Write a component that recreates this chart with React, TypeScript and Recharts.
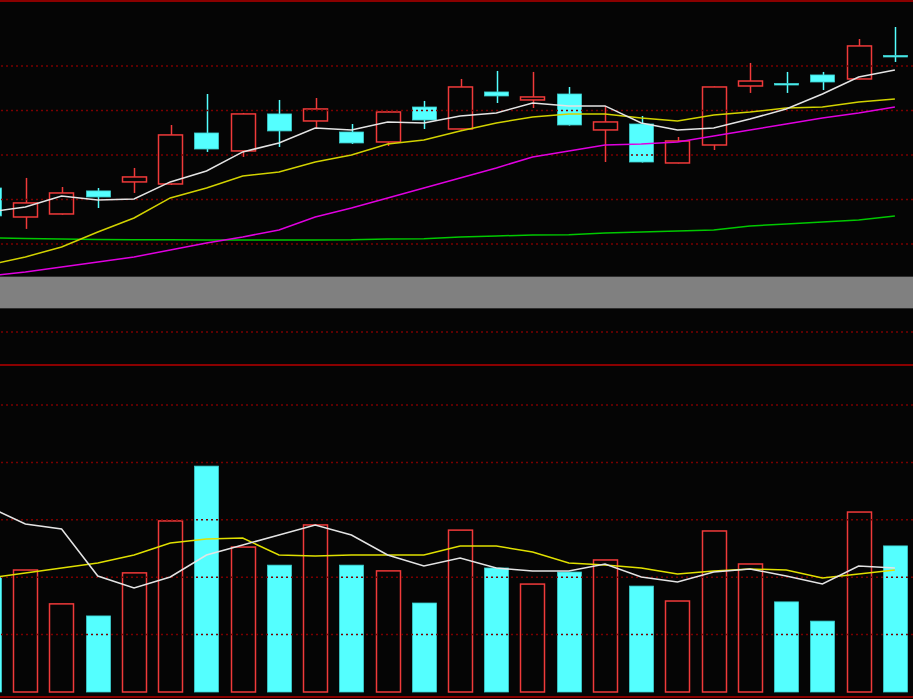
import { ComposedChart, Bar, Line, XAxis, YAxis, ReferenceLine } from 'recharts';

// K-line window: 26 trading days, first one is cut by the left edge
const days = ['D01', 'D02', 'D03', 'D04', 'D05', 'D06', 'D07', 'D08', 'D09', 'D10', 'D11', 'D12', 'D13',
    'D14', 'D15', 'D16', 'D17', 'D18', 'D19', 'D20', 'D21', 'D22', 'D23', 'D24', 'D25', 'D26'];

const opens = [10.629, 10.303, 10.337, 10.596, 10.697, 10.674, 11.247, 11.045, 11.461, 11.382, 11.258, 11.146, 11.539,
    11.292, 11.708, 11.618, 11.685, 11.281, 11.348, 10.910, 11.112, 11.775, 11.803, 11.899, 11.854, 12.118];
const closes = [10.315, 10.461, 10.573, 10.528, 10.753, 11.225, 11.067, 11.461, 11.270, 11.517, 11.135, 11.483, 11.393,
    11.764, 11.663, 11.652, 11.337, 11.371, 10.921, 11.157, 11.764, 11.831, 11.798, 11.820, 12.225, 12.112];
const highs = [10.660, 10.742, 10.640, 10.629, 10.854, 11.337, 11.685, 11.472, 11.618, 11.640, 11.348, 11.490, 11.607,
    11.854, 11.944, 11.933, 11.764, 11.551, 11.438, 11.202, 11.770, 12.034, 11.933, 11.933, 12.303, 12.438];
const lows = [10.300, 10.169, 10.330, 10.404, 10.573, 10.663, 11.034, 10.978, 11.090, 11.303, 11.124, 11.101, 11.292,
    11.285, 11.584, 11.528, 11.330, 10.921, 10.915, 10.905, 11.056, 11.697, 11.697, 11.730, 11.850, 12.045];

const ma5 = [10.36, 10.416, 10.539, 10.494, 10.506, 10.697, 10.82, 11.034, 11.135, 11.303, 11.281, 11.371, 11.36,
    11.438, 11.472, 11.584, 11.551, 11.551, 11.36, 11.281, 11.303, 11.404, 11.517, 11.685, 11.876, 11.955];
const ma10 = [9.764, 9.854, 9.966, 10.135, 10.292, 10.517, 10.629, 10.764, 10.809, 10.921, 11.0, 11.124, 11.169,
    11.27, 11.36, 11.427, 11.461, 11.461, 11.416, 11.382, 11.449, 11.483, 11.528, 11.539, 11.596, 11.629];
const ma20 = [9.64, 9.685, 9.742, 9.798, 9.854, 9.933, 10.011, 10.079, 10.157, 10.303, 10.404, 10.517, 10.629,
    10.742, 10.854, 10.978, 11.045, 11.112, 11.124, 11.146, 11.213, 11.281, 11.348, 11.416, 11.472, 11.539];
const ma60 = [10.07, 10.06, 10.055, 10.05, 10.048, 10.046, 10.045, 10.045, 10.045, 10.045, 10.046, 10.056, 10.058,
    10.079, 10.09, 10.101, 10.104, 10.124, 10.135, 10.146, 10.157, 10.202, 10.225, 10.247, 10.27, 10.315];

const volumes = [40000, 42500, 30700, 26500, 41500, 59600, 78700, 50500, 44200, 58200, 44200, 42200, 31000,
    56400, 43200, 37600, 41800, 46000, 36900, 31700, 56100, 44600, 31400, 24700, 62700, 50900];
const volMa5 = [64450, 58530, 56790, 40410, 36230, 40070, 47730, 51210, 54700, 58180, 54700, 47730, 43900,
    46690, 43200, 42160, 42160, 44600, 40070, 38320, 41810, 42850, 40410, 37630, 43900, 43200];
const volMa10 = [39700, 41460, 43200, 44940, 47730, 51910, 53300, 53650, 47730, 47380, 47730, 47730, 47730,
    50870, 50870, 48780, 44940, 44250, 43200, 41110, 42160, 42850, 42500, 39720, 41110, 42500];

const priceGrid = [10, 10.5, 11, 11.5, 12];
const volGrid = [20000, 40000, 60000, 80000, 100000];

const RED = '#f03a3a';
const CYAN = '#54ffff';
const GRID = '#7a0000';
const CHART_W = 942;

const rows = days.map((d, i) => ({
    day: d,
    open: opens[i],
    close: closes[i],
    high: highs[i],
    low: lows[i],
    range: [lows[i], highs[i]],
    ma5: ma5[i],
    ma10: ma10[i],
    ma20: ma20[i],
    ma60: ma60[i],
    vol: volumes[i],
    volMa5: volMa5[i],
    volMa10: volMa10[i],
}));

function Candle(props: any) {
    const { x, y, width, height, payload } = props;
    if (!payload) return null;
    const { open, close, high, low } = payload;
    const top = Math.min(y, y + height);
    const h = Math.abs(height);
    const toY = (v: number) => top + ((high - v) / (high - low)) * h;
    const cx = Math.round(x + width / 2) + 0.5;
    const up = close > open;
    const bTop = toY(Math.max(open, close));
    const bBot = toY(Math.min(open, close));
    const color = up ? RED : CYAN;
    const bx = Math.round(x) + 0.5;
    const bw = Math.round(width) - 1;
    return (
        <g>
            <line x1={cx} x2={cx} y1={toY(high)} y2={bTop} stroke={color} strokeWidth={1.5} />
            <line x1={cx} x2={cx} y1={bBot} y2={toY(low)} stroke={color} strokeWidth={1.5} />
            {up ? (
                <rect x={bx} y={bTop} width={bw} height={Math.max(bBot - bTop, 1)} fill="none" stroke={RED} strokeWidth={1.5} />
            ) : (
                <rect x={bx} y={bTop} width={bw} height={Math.max(bBot - bTop, 1.5)} fill={CYAN} stroke="#3ccccc" strokeWidth={0.8} />
            )}
        </g>
    );
}

function VolBar(props: any) {
    const { x, y, width, height, payload } = props;
    if (!payload) return null;
    const top = Math.min(y, y + height);
    const h = Math.abs(height);
    const up = payload.close > payload.open;
    const bx = Math.round(x) + 0.5;
    const bw = Math.round(width) - 1;
    return up
        ? <rect x={bx} y={top} width={bw} height={h} fill="none" stroke={RED} strokeWidth={1.5} />
        : <rect x={bx} y={top} width={bw} height={h} fill={CYAN} stroke="#3ccccc" strokeWidth={0.8} />;
}

export default function App() {
    return (
        <div style={{ position: 'fixed', left: 0, top: 0, width: 913, height: 699, overflow: 'hidden', background: '#050505' }}>
            {/* price panel */}
            <div style={{ position: 'absolute', left: -29, top: 0 }}>
                <ComposedChart width={CHART_W} height={277} data={rows} margin={{ top: 1, right: 0, bottom: 1, left: 0 }} barSize={25}>
                    <XAxis dataKey="day" hide />
                    <YAxis hide domain={[9.64, 12.73]} allowDataOverflow />
                    <ReferenceLine y={12.73} stroke="#8a0000" strokeWidth={2} />
                    {priceGrid.map(v => (
                        <ReferenceLine key={v} y={v} stroke={GRID} strokeDasharray="2 3" strokeWidth={1.5} />
                    ))}
                    <Bar dataKey="range" shape={<Candle />} isAnimationActive={false} />
                    <Line dataKey="ma60" stroke="#00c800" strokeWidth={1.5} dot={false} isAnimationActive={false} />
                    <Line dataKey="ma20" stroke="#e000e0" strokeWidth={1.5} dot={false} isAnimationActive={false} />
                    <Line dataKey="ma10" stroke="#d2d200" strokeWidth={1.5} dot={false} isAnimationActive={false} />
                    <Line dataKey="ma5" stroke="#e4e4e4" strokeWidth={1.5} dot={false} isAnimationActive={false} />
                </ComposedChart>
            </div>
            {/* divider */}
            <div style={{ position: 'absolute', left: 0, top: 276, width: 913, height: 31, background: '#808080', borderTop: '1px solid #2e2e2e', borderBottom: '1px solid #2e2e2e' }} />
            {/* volume panel */}
            <div style={{ position: 'absolute', left: -29, top: 309 }}>
                <ComposedChart width={CHART_W} height={390} data={rows} margin={{ top: 0, right: 0, bottom: 0, left: 0 }} barSize={25}>
                    <XAxis dataKey="day" hide />
                    <YAxis hide domain={[-2440, 133440]} allowDataOverflow />
                    <ReferenceLine y={125420} stroke={GRID} strokeDasharray="2 3" strokeWidth={1.5} />
                    <ReferenceLine y={113930} stroke="#8a0000" strokeWidth={2} />
                    {volGrid.map(v => (
                        <ReferenceLine key={v} y={v} stroke={GRID} strokeDasharray="2 3" strokeWidth={1.5} />
                    ))}
                    <ReferenceLine y={-1742} stroke="#8a0000" strokeWidth={2} />
                    <Bar dataKey="vol" shape={<VolBar />} isAnimationActive={false} />
                    <Line dataKey="volMa10" stroke="#e0e000" strokeWidth={1.5} dot={false} isAnimationActive={false} />
                    <Line dataKey="volMa5" stroke="#e4e4e4" strokeWidth={1.5} dot={false} isAnimationActive={false} />
                </ComposedChart>
            </div>
        </div>
    );
}
